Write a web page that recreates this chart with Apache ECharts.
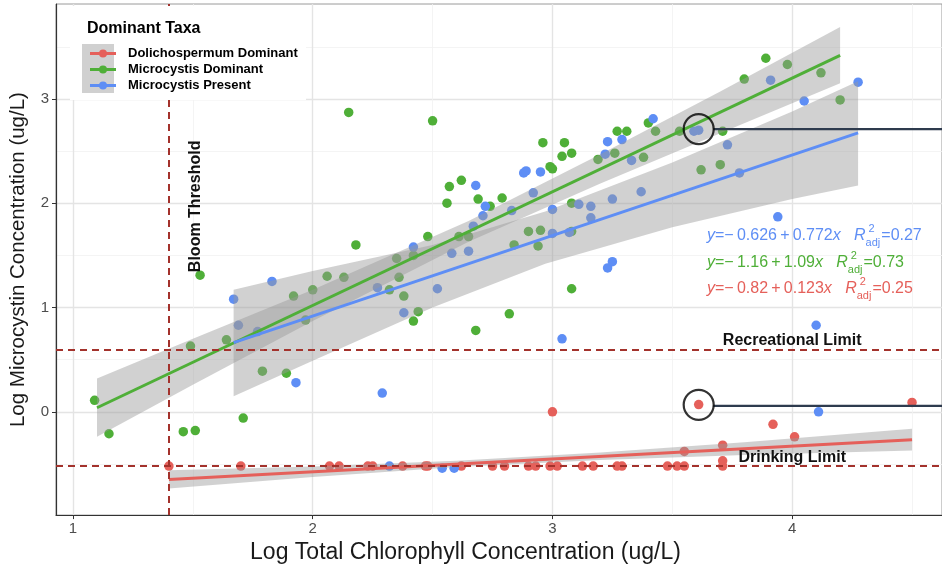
<!DOCTYPE html>
<html>
<head>
<meta charset="utf-8">
<title>Microcystin vs Chlorophyll</title>
<script src="https://cdn.jsdelivr.net/npm/echarts@6/dist/echarts.min.js"></script>
<style>html,body{margin:0;padding:0;background:#fff;}</style>
</head>
<body>
<div id="main" style="width:942px;height:569px;"></div>
<script type="text/javascript">
// categories and colours
var taxa = ['Dolichospermum Dominant', 'Microcystis Dominant', 'Microcystis Present'];
var colors = ['#E5605A', '#4FAF38', '#5E8EF5'];

// axis ticks
var xTicks = [1, 2, 3, 4];
var xMinorTicks = [1.5, 2.5, 3.5, 4.5];
var yTicks = [0, 1, 2, 3];
var yMinorTicks = [-0.5, 0.5, 1.5, 2.5, 3.5];

// points: [log chlorophyll, log microcystin]
var doliPoints = [
    [1.40, -0.52], [1.70, -0.52], [2.07, -0.52], [2.11, -0.52], [2.23, -0.52], [2.25, -0.52],
    [2.375, -0.52], [2.47, -0.52], [2.48, -0.52], [2.62, -0.52], [2.75, -0.52], [2.80, -0.52],
    [2.90, -0.52], [2.93, -0.52], [2.99, -0.52], [3.02, -0.52], [3.125, -0.52], [3.17, -0.52],
    [3.27, -0.52], [3.29, -0.52], [3.48, -0.52], [3.52, -0.52], [3.55, -0.52], [3.71, -0.52],
    [3.00, 0.00], [3.61, 0.07], [4.50, 0.09], [3.92, -0.12], [4.01, -0.24], [3.71, -0.32],
    [3.55, -0.38], [3.71, -0.47]
];
var micDomPoints = [
    [3.89, 3.39], [3.98, 3.33], [3.80, 3.19], [4.12, 3.25], [4.20, 2.99], [3.40, 2.77],
    [3.43, 2.69], [3.53, 2.69], [3.71, 2.69], [3.62, 2.32], [3.70, 2.37], [3.38, 2.44],
    [2.15, 2.87], [2.50, 2.79], [2.96, 2.58], [3.05, 2.58], [3.04, 2.45], [3.08, 2.48],
    [2.99, 2.35], [3.00, 2.33], [3.27, 2.69], [3.31, 2.69], [3.26, 2.48], [3.19, 2.42],
    [2.57, 2.16], [2.62, 2.22], [2.56, 2.00], [2.69, 2.04], [2.79, 2.05], [2.74, 1.97],
    [3.08, 2.00], [2.48, 1.68], [2.61, 1.68], [2.65, 1.68], [2.90, 1.73], [2.95, 1.74],
    [3.08, 1.73], [2.84, 1.60], [2.94, 1.59], [2.42, 1.50], [2.35, 1.47], [2.36, 1.29],
    [2.32, 1.17], [2.38, 1.11], [3.08, 1.18], [2.44, 0.96], [2.42, 0.87], [2.82, 0.94],
    [2.68, 0.78], [2.18, 1.60], [1.53, 1.31], [2.06, 1.30], [2.13, 1.29], [1.92, 1.11],
    [2.00, 1.17], [1.97, 0.88], [1.64, 0.69], [1.49, 0.63], [1.79, 0.39], [1.89, 0.37],
    [1.09, 0.11], [1.15, -0.21], [1.46, -0.19], [1.51, -0.18], [1.71, -0.06]
];
var micPresPoints = [
    [3.91, 3.18], [4.275, 3.16], [4.05, 2.98], [3.42, 2.81], [3.59, 2.69], [3.61, 2.70],
    [3.73, 2.56], [3.78, 2.29], [3.37, 2.11], [3.94, 1.87], [2.88, 2.29], [2.89, 2.31],
    [2.95, 2.30], [3.23, 2.59], [3.29, 2.61], [3.22, 2.47], [3.33, 2.41], [2.68, 2.17],
    [2.72, 1.97], [2.71, 1.88], [2.92, 2.10], [2.83, 1.93], [3.00, 1.94], [3.11, 1.99],
    [3.16, 1.97], [3.16, 1.86], [3.25, 2.04], [2.67, 1.78], [3.00, 1.71], [3.07, 1.72],
    [2.42, 1.58], [2.58, 1.52], [2.65, 1.54], [2.27, 1.19], [2.52, 1.18], [3.23, 1.38],
    [3.25, 1.44], [2.38, 0.95], [3.04, 0.70], [1.83, 1.25], [1.67, 1.08], [1.69, 0.83],
    [1.77, 0.77], [1.93, 0.28], [2.29, 0.18], [4.10, 0.83], [4.11, 0.00], [2.32, -0.52],
    [2.54, -0.54], [2.59, -0.54]
];

// fitted lines (end points) and confidence bands
var doliFit = [[1.40, -0.648], [4.50, -0.267]];
var micDomFit = [[1.10, 0.039], [4.20, 3.418]];
var micPresFit = [[1.67, 0.663], [4.275, 2.674]];

var doliBandX = [1.40, 2.00, 2.60, 3.20, 3.80, 4.50];
var doliBandLo = [-0.735, -0.624, -0.530, -0.461, -0.415, -0.370];
var doliBandHi = [-0.561, -0.524, -0.470, -0.391, -0.291, -0.163];

var micDomBandX = [1.10, 1.50, 2.00, 2.65, 3.20, 3.70, 4.20];
var micDomBandLo = [-0.24, 0.26, 0.87, 1.63, 2.19, 2.67, 3.15];
var micDomBandHi = [0.32, 0.70, 1.17, 1.83, 2.47, 3.07, 3.69];

var micPresBandX = [1.67, 2.00, 2.50, 2.97, 3.50, 4.00, 4.275];
var micPresBandLo = [0.15, 0.49, 1.00, 1.42, 1.77, 2.04, 2.17];
var micPresBandHi = [1.17, 1.35, 1.60, 1.92, 2.39, 2.88, 3.17];

// reference limits
var recreationalLimit = 0.602;
var drinkingLimit = -0.523;
var bloomThreshold = 1.4;

// circled points and their pointer lines
var circledPoints = [[3.61, 2.71], [3.61, 0.067]];
var pointerTop = [[3.671, 2.71], [4.7, 2.71]];
var pointerBottom = [[3.671, 0.057], [4.7, 0.057]];

// fit equations (blue, green, red order as in the picture)
var eqOrder = [2, 1, 0];
var eqBody = ['=\u2212\u20090.82\u2009+\u20090.123', '=\u2212\u20091.16\u2009+\u20091.09', '=\u2212\u20090.626\u2009+\u20090.772'];
var eqR2 = ['=0.25', '=0.73', '=0.27'];

var FONT = '"Liberation Sans", Arial, Helvetica, sans-serif';
var chart = echarts.init(document.getElementById('main'));

function bandSeries(bx, lo, hi) {
    return {
        type: 'custom',
        z: 3,
        silent: true,
        clip: true,
        data: [[bx[0], lo[0]]],
        renderItem: function (params, api) {
            var pts = [];
            for (var i = 0; i < bx.length; i++) pts.push(api.coord([bx[i], hi[i]]));
            for (var j = bx.length - 1; j >= 0; j--) pts.push(api.coord([bx[j], lo[j]]));
            return {type: 'polygon', shape: {points: pts}, style: {fill: 'rgba(153,153,153,0.45)'}};
        }
    };
}

function scatterSeries(i, pts) {
    return {
        name: taxa[i], type: 'scatter', z: 2, symbolSize: 9.5,
        itemStyle: {color: colors[i], opacity: 1},
        data: pts
    };
}

function fitSeries(i, pts) {
    return {
        name: taxa[i], type: 'line', z: 4, showSymbol: false, silent: true,
        lineStyle: {color: colors[i], width: 3},
        itemStyle: {color: colors[i]},
        data: pts
    };
}

var dash = {type: [7, 5], color: '#A3322C', width: 2};
var legendIcon = 'path://M0,3.6H26V6.4H0Z M13,1a4,4 0 1,1 0,8a4,4 0 1,1 0,-8Z';

var option = {
    backgroundColor: '#fff',
    animation: false,
    textStyle: {fontFamily: FONT},
    title: {
        text: 'Dominant Taxa', left: 82, top: 16, z: 8,
        textStyle: {fontFamily: FONT, fontWeight: 'bold', fontSize: 16, color: '#000'}
    },
    legend: {
        orient: 'vertical', left: 85, top: 42, z: 7,
        itemWidth: 26, itemHeight: 8, itemGap: 3,
        selectedMode: false,
        data: taxa.map(function (t) { return {name: t, icon: legendIcon}; }),
        textStyle: {fontFamily: FONT, fontWeight: 'bold', fontSize: 13, color: '#000', padding: [0, 0, 0, 7]}
    },
    grid: {
        left: 55, right: 0, top: 4, bottom: 52,
        show: true, backgroundColor: '#fff', borderColor: '#9a9a9a', borderWidth: 1
    },
    xAxis: [{
        type: 'value', min: 0.929, max: 4.625,
        name: 'Log Total Chlorophyll Concentration (ug/L)',
        nameLocation: 'middle', nameGap: 23,
        nameTextStyle: {fontFamily: FONT, fontSize: 23, color: '#1a1a1a', padding: [0, 67, 0, 0]},
        axisLine: {show: true, onZero: false, lineStyle: {color: '#333', width: 1.2}},
        axisTick: {show: true, length: 4, customValues: xTicks, lineStyle: {color: '#333'}},
        axisLabel: {customValues: xTicks, margin: 6, fontFamily: FONT, fontSize: 15, color: '#4D4D4D'},
        splitLine: {show: true, lineStyle: {color: '#E4E4E4', width: 1.4}}
    }, {
        type: 'value', min: 0.929, max: 4.625, position: 'bottom',
        axisLine: {show: false}, axisLabel: {show: false},
        axisTick: {show: false, customValues: xMinorTicks},
        splitLine: {show: true, lineStyle: {color: '#F1F1F1', width: 0.8}}
    }],
    yAxis: [{
        type: 'value', min: -0.99, max: 3.91,
        name: 'Log Microcystin Concentration (ug/L)',
        nameLocation: 'middle', nameGap: 27,
        nameTextStyle: {fontFamily: FONT, fontSize: 20.5, color: '#1a1a1a'},
        axisLine: {show: true, onZero: false, lineStyle: {color: '#333', width: 1.2}},
        axisTick: {show: true, length: 4, customValues: yTicks, lineStyle: {color: '#333'}},
        axisLabel: {customValues: yTicks, margin: 7, fontFamily: FONT, fontSize: 15, color: '#4D4D4D'},
        splitLine: {show: true, lineStyle: {color: '#E4E4E4', width: 1.4}}
    }, {
        type: 'value', min: -0.99, max: 3.91, position: 'left',
        axisLine: {show: false}, axisLabel: {show: false},
        axisTick: {show: false, customValues: yMinorTicks},
        splitLine: {show: true, lineStyle: {color: '#F1F1F1', width: 0.8}}
    }],
    series: [
        fitSeries(0, doliFit),
        fitSeries(1, micDomFit),
        fitSeries(2, micPresFit),
        scatterSeries(0, doliPoints),
        scatterSeries(1, micDomPoints),
        scatterSeries(2, micPresPoints),
        bandSeries(doliBandX, doliBandLo, doliBandHi),
        bandSeries(micDomBandX, micDomBandLo, micDomBandHi),
        bandSeries(micPresBandX, micPresBandLo, micPresBandHi),
        {
            type: 'line', z: 4.5, data: [], silent: true,
            markLine: {
                silent: true, symbol: 'none', animation: false,
                label: {show: false},
                lineStyle: dash,
                data: [{yAxis: recreationalLimit}, {yAxis: drinkingLimit}, {xAxis: bloomThreshold}]
            }
        },
        {
            type: 'scatter', z: 4.6, silent: true, symbolSize: 30,
            itemStyle: {color: 'rgba(0,0,0,0)', borderColor: '#000', borderWidth: 2.2},
            data: circledPoints
        },
        {
            type: 'line', z: 4.6, silent: true, showSymbol: false,
            lineStyle: {color: '#2E3B4E', width: 2.2}, data: pointerTop
        },
        {
            type: 'line', z: 4.6, silent: true, showSymbol: false,
            lineStyle: {color: '#2E3B4E', width: 2.2}, data: pointerBottom
        }
    ]
};

chart.setOption(option);

// text annotations placed after the axes exist
var ctx = document.createElement('canvas').getContext('2d');
function textW(str, font) { ctx.font = font; return ctx.measureText(str).width; }
function px(x, y) { return chart.convertToPixel({gridIndex: 0}, [x, y]); }

var graphics = [
    {type: 'rect', z: 5, silent: true, shape: {x: 70, y: 6, width: 236, height: 94}, style: {fill: '#fff'}},
    {type: 'rect', z: 5.5, silent: true, shape: {x: 82, y: 44, width: 32, height: 49}, style: {fill: '#D0D0D0'}}
];

var recP = px(4.0, recreationalLimit);
var drkP = px(4.0, drinkingLimit);
var bloomP = px(bloomThreshold, 1.97);
var labelFont = 'bold 16px ' + FONT;
graphics.push({type: 'text', z: 5, x: recP[0], y: recP[1] - 8, silent: true,
    style: {text: 'Recreational Limit', font: labelFont, fill: '#111', align: 'center', verticalAlign: 'middle'}});
graphics.push({type: 'text', z: 5, x: drkP[0], y: drkP[1] - 9, silent: true,
    style: {text: 'Drinking Limit', font: labelFont, fill: '#111', align: 'center', verticalAlign: 'middle'}});
graphics.push({type: 'text', z: 5, x: bloomP[0] + 27, y: bloomP[1], rotation: Math.PI / 2, silent: true,
    style: {text: 'Bloom Threshold', font: labelFont, fill: '#111', align: 'center', verticalAlign: 'middle'}});

var eqY = [236, 263, 289];
eqOrder.forEach(function (ti, row) {
    var col = colors[ti];
    var x = 707, yc = eqY[row];
    var parts = [['y', true], [eqBody[ti], false], ['x', true], ['   ', false], ['R', true]];
    parts.forEach(function (p) {
        var f = (p[1] ? 'italic ' : '') + '16px ' + FONT;
        graphics.push({type: 'text', z: 5, x: x, y: yc, silent: true,
            style: {text: p[0], font: f, fill: col, verticalAlign: 'middle'}});
        x += textW(p[0], f);
    });
    var small = '11px ' + FONT;
    graphics.push({type: 'text', z: 5, x: x + 3, y: yc - 7, silent: true,
        style: {text: '2', font: small, fill: col, verticalAlign: 'middle'}});
    graphics.push({type: 'text', z: 5, x: x, y: yc + 7, silent: true,
        style: {text: 'adj', font: small, fill: col, verticalAlign: 'middle'}});
    x += textW('adj', small) + 1;
    graphics.push({type: 'text', z: 5, x: x, y: yc, silent: true,
        style: {text: eqR2[ti], font: '16px ' + FONT, fill: col, verticalAlign: 'middle'}});
});

chart.setOption({graphic: graphics});
</script>
</body>
</html>
